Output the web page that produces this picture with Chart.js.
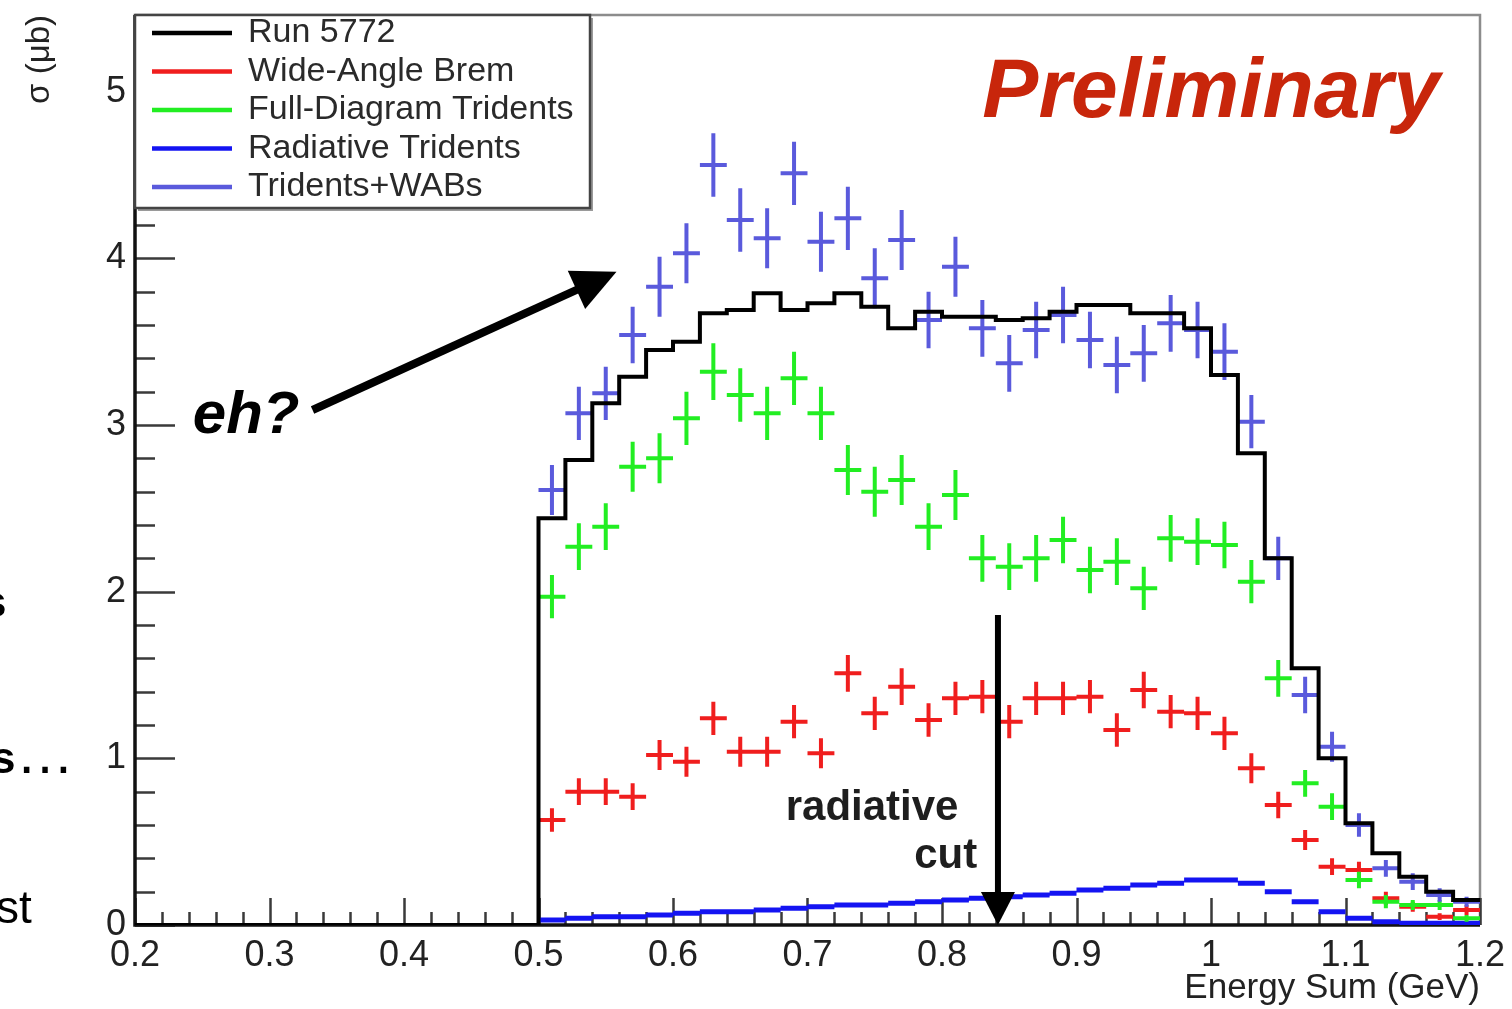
<!DOCTYPE html>
<html>
<head>
<meta charset="utf-8">
<title>Energy Sum</title>
<script src="https://cdn.jsdelivr.net/npm/chart.js@4.4.1/dist/chart.umd.min.js"></script>
<style>
  html, body { margin: 0; padding: 0; background: #fff; overflow: hidden; }
  #plot { display: block; }
</style>
</head>
<body>
<canvas id="plot" width="1512" height="1009"></canvas>
<script>
// ====== DATA (bins of 0.02 GeV) ======
const binCenters = [0.51, 0.53, 0.55, 0.57, 0.59, 0.61, 0.63, 0.65, 0.67, 0.69, 0.71, 0.73,
                    0.75, 0.77, 0.79, 0.81, 0.83, 0.85, 0.87, 0.89, 0.91, 0.93, 0.95, 0.97,
                    0.99, 1.01, 1.03, 1.05, 1.07, 1.09, 1.11, 1.13, 1.15, 1.17, 1.19];
const binHalfWidth = 0.01;
const histStart = 0.2;

const run5772 = [2.44, 2.79, 3.13, 3.29, 3.45, 3.50, 3.67, 3.69, 3.79, 3.69, 3.73, 3.79,
                 3.71, 3.58, 3.68, 3.65, 3.65, 3.63, 3.64, 3.68, 3.72, 3.72, 3.67, 3.67,
                 3.58, 3.30, 2.83, 2.20, 1.54, 1.00, 0.61, 0.43, 0.29, 0.20, 0.15];

const wideAngleBrem = [0.63, 0.80, 0.80, 0.77, 1.02, 0.98, 1.24, 1.04, 1.04, 1.22, 1.03, 1.51,
                       1.27, 1.43, 1.23, 1.36, 1.37, 1.22, 1.36, 1.36, 1.37, 1.17, 1.41, 1.28,
                       1.27, 1.15, 0.94, 0.72, 0.51, 0.35, 0.33, 0.16, 0.11, 0.05, 0.09];
const wideAngleBremErr = [0.07, 0.08, 0.08, 0.08, 0.09, 0.09, 0.10, 0.09, 0.09, 0.10, 0.09, 0.11,
                          0.10, 0.11, 0.10, 0.10, 0.10, 0.10, 0.10, 0.10, 0.10, 0.10, 0.11, 0.10,
                          0.10, 0.10, 0.09, 0.08, 0.06, 0.05, 0.05, 0.04, 0.03, 0.02, 0.03];

const fullDiagram = [1.97, 2.27, 2.39, 2.75, 2.80, 3.04, 3.32, 3.18, 3.07, 3.28, 3.07, 2.73,
                     2.60, 2.67, 2.39, 2.58, 2.20, 2.15, 2.20, 2.31, 2.13, 2.18, 2.02, 2.32,
                     2.30, 2.28, 2.06, 1.48, 0.85, 0.71, 0.27, 0.14, 0.12, 0.12, 0.04];
const fullDiagramErr = [0.13, 0.14, 0.14, 0.15, 0.15, 0.16, 0.17, 0.16, 0.16, 0.16, 0.16, 0.15,
                        0.15, 0.15, 0.14, 0.15, 0.14, 0.14, 0.14, 0.14, 0.14, 0.14, 0.13, 0.14,
                        0.14, 0.14, 0.13, 0.11, 0.08, 0.08, 0.05, 0.04, 0.03, 0.03, 0.02];

const radiativeTridents = [0.03, 0.04, 0.05, 0.05, 0.06, 0.07, 0.08, 0.08, 0.09, 0.10, 0.11, 0.12,
                           0.12, 0.13, 0.14, 0.15, 0.16, 0.17, 0.18, 0.19, 0.21, 0.22, 0.24, 0.25,
                           0.27, 0.27, 0.25, 0.20, 0.14, 0.08, 0.04, 0.02, 0.01, 0.01, 0.01];

const tridentsWabs = [2.61, 3.07, 3.19, 3.54, 3.83, 4.03, 4.56, 4.23, 4.12, 4.51, 4.10, 4.24,
                      3.88, 4.11, 3.63, 3.95, 3.58, 3.37, 3.57, 3.66, 3.51, 3.36, 3.43, 3.61,
                      3.57, 3.44, 3.02, 2.20, 1.38, 1.07, 0.60, 0.34, 0.26, 0.18, 0.14];
const tridentsWabsErr = [0.15, 0.16, 0.16, 0.17, 0.18, 0.18, 0.19, 0.19, 0.18, 0.19, 0.18, 0.19,
                         0.18, 0.18, 0.17, 0.18, 0.17, 0.17, 0.17, 0.17, 0.17, 0.17, 0.17, 0.17,
                         0.17, 0.17, 0.16, 0.13, 0.11, 0.09, 0.07, 0.05, 0.05, 0.04, 0.03];

const seriesNames = ["Run 5772", "Wide-Angle Brem", "Full-Diagram Tridents", "Radiative Tridents", "Tridents+WABs"];

const xTickValues = [0.2, 0.3, 0.4, 0.5, 0.6, 0.7, 0.8, 0.9, 1.0, 1.1, 1.2];
const xTickLabels = ["0.2", "0.3", "0.4", "0.5", "0.6", "0.7", "0.8", "0.9", "1", "1.1", "1.2"];
const yTickValues = [0, 1, 2, 3, 4, 5];
const yTickLabels = ["0", "1", "2", "3", "4", "5"];

// ====== STYLE ======
const FONT = '"Liberation Sans", Arial, Helvetica, sans-serif';
const COL_RUN = "#000000";
const COL_WAB = "#f01e1e";
const COL_FULL = "#22ee22";
const COL_RAD = "#1414f2";
const COL_SUM = "#5a5adc";

// annotation anchors, in data units (GeV, µb)
const notes = {
    prelim: { x: 0.830, y: 4.85 },
    eh: { x: 0.243, y: 2.95 },
    ehArrow: { x0: 0.332, y0: 3.09, x1: 0.558, y1: 3.92 },
    cutArrow: { x: 0.8416, y0: 1.86, y1: 0 },
    radLabel: { x: 0.748, y: 0.63 },
    cutLabel: { x: 0.8027, y: 0.342 }
};

// ====== HELPERS: build line data from the arrays ======
function histogramSteps(values) {
    const pts = [{ x: histStart, y: 0 }];
    binCenters.forEach((c, i) => pts.push({ x: c - binHalfWidth, y: values[i] }));
    const last = binCenters.length - 1;
    pts.push({ x: binCenters[last] + binHalfWidth, y: values[last] });
    return pts;
}

function horizontalBars(values) {
    const pts = [];
    binCenters.forEach((c, i) => {
        pts.push({ x: c - binHalfWidth, y: values[i] });
        pts.push({ x: c + binHalfWidth, y: values[i] });
        pts.push({ x: c + binHalfWidth, y: null });
    });
    return pts;
}

function verticalBars(values, errs) {
    const pts = [];
    binCenters.forEach((c, i) => {
        pts.push({ x: c, y: values[i] - errs[i] });
        pts.push({ x: c, y: values[i] + errs[i] });
        pts.push({ x: c, y: null });
    });
    return pts;
}

function lineSet(label, data, color, width, order, stepped) {
    return {
        label: label,
        data: data,
        borderColor: color,
        backgroundColor: color,
        borderWidth: width,
        pointRadius: 0,
        spanGaps: false,
        stepped: stepped || false,
        fill: false,
        order: order
    };
}

const datasets = [
    lineSet(seriesNames[0], histogramSteps(run5772), COL_RUN, 4, 0, true),
    lineSet(seriesNames[4], horizontalBars(tridentsWabs), COL_SUM, 4, 1),
    lineSet(seriesNames[4], verticalBars(tridentsWabs, tridentsWabsErr), COL_SUM, 4, 1),
    lineSet(seriesNames[2], horizontalBars(fullDiagram), COL_FULL, 4, 2),
    lineSet(seriesNames[2], verticalBars(fullDiagram, fullDiagramErr), COL_FULL, 4, 2),
    lineSet(seriesNames[1], horizontalBars(wideAngleBrem), COL_WAB, 4, 3),
    lineSet(seriesNames[1], verticalBars(wideAngleBrem, wideAngleBremErr), COL_WAB, 4, 3),
    lineSet(seriesNames[3], horizontalBars(radiativeTridents), COL_RAD, 5, 4)
];

const legendEntries = [
    { label: seriesNames[0], color: COL_RUN },
    { label: seriesNames[1], color: COL_WAB },
    { label: seriesNames[2], color: COL_FULL },
    { label: seriesNames[3], color: COL_RAD },
    { label: seriesNames[4], color: COL_SUM }
];

// ====== DRAWING ======
function drawArrow(ctx, x0, y0, x1, y1, width, headLen, headHalf) {
    const len = Math.hypot(x1 - x0, y1 - y0);
    const ux = (x1 - x0) / len, uy = (y1 - y0) / len;
    const bx = x1 - ux * headLen, by = y1 - uy * headLen;
    ctx.lineWidth = width;
    ctx.lineCap = "butt";
    ctx.beginPath();
    ctx.moveTo(x0, y0);
    ctx.lineTo(bx + ux * 2, by + uy * 2);
    ctx.stroke();
    ctx.beginPath();
    ctx.moveTo(x1, y1);
    ctx.lineTo(bx - uy * headHalf, by + ux * headHalf);
    ctx.lineTo(bx + uy * headHalf, by - ux * headHalf);
    ctx.closePath();
    ctx.fill();
}

const rootDecor = {
    id: "rootDecor",
    beforeDatasetsDraw(chart) {
        const { ctx, chartArea: a, scales: { x, y } } = chart;
        ctx.save();

        // grey frame (top / right)
        ctx.strokeStyle = "#8c8c8c";
        ctx.lineWidth = 2.5;
        ctx.beginPath();
        ctx.moveTo(a.left, a.top);
        ctx.lineTo(a.right, a.top);
        ctx.lineTo(a.right, a.bottom);
        ctx.stroke();

        // inward ticks, ROOT style
        ctx.strokeStyle = "#3a3a3a";
        ctx.lineWidth = 2.5;
        ctx.beginPath();
        for (let i = 0; i <= 50; i++) {
            const px = Math.round(x.getPixelForValue(0.2 + i * 0.02)) + 0.5;
            const len = i % 5 === 0 ? 27 : 13;
            ctx.moveTo(px, a.bottom);
            ctx.lineTo(px, a.bottom - len);
        }
        for (let i = 0; i * 0.2 <= y.max; i++) {
            const py = Math.round(y.getPixelForValue(i * 0.2)) + 0.5;
            const len = i % 5 === 0 ? 40 : 20;
            ctx.moveTo(a.left, py);
            ctx.lineTo(a.left + len, py);
        }
        ctx.stroke();

        // axis lines
        ctx.strokeStyle = "#111";
        ctx.lineWidth = 3.5;
        ctx.beginPath();
        ctx.moveTo(a.left, a.top);
        ctx.lineTo(a.left, a.bottom);
        ctx.lineTo(a.right, a.bottom);
        ctx.stroke();
        ctx.restore();
    },
    afterDatasetsDraw(chart) {
        const { ctx, chartArea: a, scales: { x, y } } = chart;
        ctx.save();

        // ====== legend box ======
        const lx = a.left, ly = a.top, lw = 455, lh = 193;
        ctx.fillStyle = "#9a9a9a";
        ctx.fillRect(lx + 3, ly + 3, lw, lh);
        ctx.fillStyle = "#fff";
        ctx.fillRect(lx, ly, lw, lh);
        ctx.strokeStyle = "#444";
        ctx.lineWidth = 2.5;
        ctx.strokeRect(lx, ly, lw, lh);
        ctx.font = `34px ${FONT}`;
        ctx.textBaseline = "middle";
        ctx.textAlign = "left";
        legendEntries.forEach((e, i) => {
            const ry = ly + 18 + i * 38.5;
            ctx.strokeStyle = e.color;
            ctx.lineWidth = 4.5;
            ctx.beginPath();
            ctx.moveTo(lx + 17, ry);
            ctx.lineTo(lx + 97, ry);
            ctx.stroke();
            ctx.fillStyle = "#2a2a2a";
            ctx.fillText(e.label, lx + 113, ry);
        });

        // ====== Preliminary ======
        ctx.textBaseline = "alphabetic";
        ctx.fillStyle = "#c8260b";
        ctx.font = `italic bold 84px ${FONT}`;
        ctx.fillText("Preliminary", x.getPixelForValue(notes.prelim.x), y.getPixelForValue(notes.prelim.y));

        // ====== eh? + arrow ======
        ctx.fillStyle = "#000";
        ctx.strokeStyle = "#000";
        ctx.font = `italic bold 60px ${FONT}`;
        ctx.fillText("eh?", x.getPixelForValue(notes.eh.x), y.getPixelForValue(notes.eh.y));
        drawArrow(ctx,
            x.getPixelForValue(notes.ehArrow.x0), y.getPixelForValue(notes.ehArrow.y0),
            x.getPixelForValue(notes.ehArrow.x1), y.getPixelForValue(notes.ehArrow.y1),
            8, 44, 21);

        // ====== radiative cut ======
        ctx.fillStyle = "#1e1e1e";
        ctx.font = `bold 42px ${FONT}`;
        ctx.textAlign = "center";
        ctx.fillText("radiative", x.getPixelForValue(notes.radLabel.x), y.getPixelForValue(notes.radLabel.y));
        ctx.fillText("cut", x.getPixelForValue(notes.cutLabel.x), y.getPixelForValue(notes.cutLabel.y));
        ctx.fillStyle = "#000";
        const cx = x.getPixelForValue(notes.cutArrow.x);
        drawArrow(ctx, cx, y.getPixelForValue(notes.cutArrow.y0), cx, y.getPixelForValue(notes.cutArrow.y1), 6, 33, 17);

        // ====== cut-off slide text at the left edge ======
        ctx.textAlign = "left";
        ctx.fillStyle = "#000";
        ctx.font = `bold 44px ${FONT}`;
        ctx.fillText("s", -18, 617);
        ctx.fillText("s", -9, 773);
        ctx.font = `58px ${FONT}`;
        ctx.fillText("\u2026", 16, 773);
        ctx.font = `46px ${FONT}`;
        ctx.fillText("st", -4, 923);

        ctx.restore();
    }
};

const chart = new Chart(document.getElementById("plot").getContext("2d"), {
    type: "line",
    data: { datasets: datasets },
    options: {
        responsive: false,
        animation: false,
        devicePixelRatio: 1,
        layout: { padding: { left: 0, right: 32, top: 15, bottom: 0 } },
        plugins: {
            legend: { display: false },
            tooltip: { enabled: false }
        },
        elements: {
            point: { radius: 0, hoverRadius: 0 },
            line: { tension: 0, borderCapStyle: "butt", borderJoinStyle: "miter" }
        },
        scales: {
            x: {
                type: "linear",
                min: 0.2,
                max: 1.2,
                afterBuildTicks: s => { s.ticks = xTickValues.map(v => ({ value: v })); },
                afterFit: s => { s.height = 84; s.paddingLeft = 0; s.paddingRight = 0; },
                grid: { display: false, drawTicks: false },
                border: { display: false },
                ticks: {
                    autoSkip: false,
                    maxRotation: 0,
                    padding: 9,
                    color: "#222",
                    font: { family: FONT, size: 36 },
                    callback: (v, i) => xTickLabels[i]
                },
                title: {
                    display: true,
                    text: "Energy Sum (GeV)",
                    align: "end",
                    color: "#222",
                    font: { family: FONT, size: 35 },
                    padding: { top: 0, bottom: 0 }
                }
            },
            y: {
                min: 0,
                max: 5.46,
                afterBuildTicks: s => { s.ticks = yTickValues.map(v => ({ value: v })); },
                afterFit: s => { s.width = 135; s.paddingTop = 0; s.paddingBottom = 0; },
                grid: { display: false, drawTicks: false },
                border: { display: false },
                ticks: {
                    padding: 9,
                    color: "#222",
                    font: { family: FONT, size: 36 },
                    callback: (v, i) => yTickLabels[i]
                },
                title: {
                    display: true,
                    text: "\u03c3 (\u03bcb)",
                    align: "end",
                    color: "#222",
                    font: { family: FONT, size: 33 },
                    padding: { top: 20, bottom: 0 }
                }
            }
        }
    },
    plugins: [rootDecor]
});
</script>
</body>
</html>
